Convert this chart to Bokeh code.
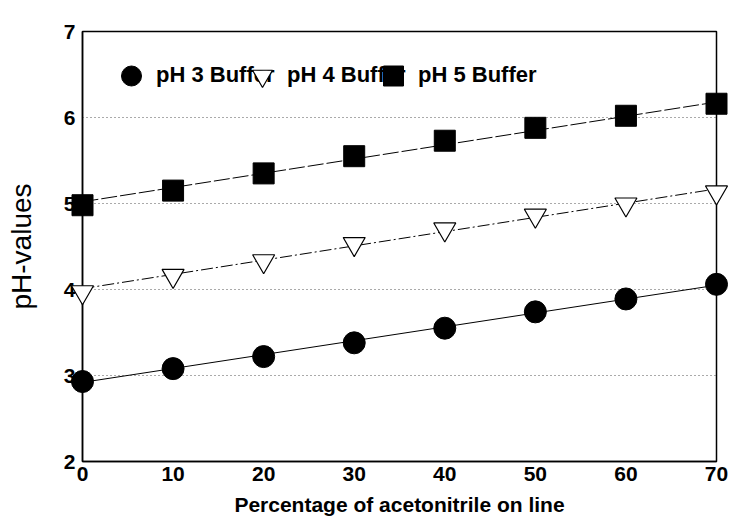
from bokeh.plotting import figure
from bokeh.models import (ColumnDataSource, Legend, LegendItem, FixedTicker,
                          Range1d)
from bokeh.embed import file_html
from bokeh.resources import INLINE

# ---- data ----
acetonitrile = [0, 10, 20, 30, 40, 50, 60, 70]
ph3_buffer = [2.93, 3.08, 3.22, 3.38, 3.55, 3.74, 3.89, 4.06]
ph4_buffer = [3.97, 4.16, 4.33, 4.53, 4.70, 4.86, 4.99, 5.13]
ph5_buffer = [4.98, 5.15, 5.35, 5.55, 5.73, 5.88, 6.02, 6.16]

fit_x = [0, 70]
fit_ph3 = [2.92, 4.05]
fit_ph4 = [4.01, 5.17]
fit_ph5 = [5.02, 6.18]

x_ticks = [0, 10, 20, 30, 40, 50, 60, 70]
y_ticks = [2, 3, 4, 5, 6, 7]
series_labels = ["pH 3 Buffer", "pH 4 Buffer", "pH 5 Buffer"]

FONT = "Liberation Sans"

p = figure(width=731, height=519, output_backend="svg", toolbar_location=None,
           x_range=Range1d(0, 70), y_range=Range1d(2, 7),
           min_border_left=82, min_border_right=15, min_border_top=31,
           min_border_bottom=58)

src = ColumnDataSource(dict(x=acetonitrile, a=ph3_buffer, b=ph4_buffer, c=ph5_buffer))
fits = ColumnDataSource(dict(x=fit_x, a=fit_ph3, b=fit_ph4, c=fit_ph5))

p.line("x", "a", source=fits, line_color="black", line_width=1)
p.line("x", "b", source=fits, line_color="black", line_width=1, line_dash="12 3 2 3")
p.line("x", "c", source=fits, line_color="black", line_width=1, line_dash="16 3")

r3 = p.scatter("x", "a", source=src, marker="circle", size=22,
               fill_color="black", line_color="black", level="overlay")
r4 = p.scatter("x", "b", source=src, marker="inverted_triangle", size=22,
               fill_color="white", line_color="black", line_width=1.2,
               level="overlay")
r5 = p.scatter("x", "c", source=src, marker="square", size=21,
               fill_color="black", line_color="black", level="overlay")

# grid
p.xgrid.grid_line_color = None
p.ygrid.ticker = FixedTicker(ticks=y_ticks)
p.ygrid.grid_line_color = "#555555"
p.ygrid.grid_line_dash = "1 3"
p.ygrid.grid_line_width = 1

# axes
p.xaxis.ticker = FixedTicker(ticks=x_ticks)
p.yaxis.ticker = FixedTicker(ticks=y_ticks)
for ax in (p.xaxis, p.yaxis):
    ax.axis_line_color = "black"
    ax.axis_line_width = 1.5
    ax.major_tick_in = 0
    ax.major_tick_out = 0
    ax.minor_tick_line_color = None
    ax.major_label_text_font = FONT
    ax.major_label_text_font_style = "bold"
    ax.major_label_text_font_size = "21px"
    ax.major_label_text_color = "black"
    ax.axis_label_text_font = FONT
    ax.axis_label_text_color = "black"

p.xaxis.axis_label = "Percentage of acetonitrile on line"
p.xaxis.axis_label_text_font_size = "21px"
p.xaxis.axis_label_text_font_style = "bold"
p.xaxis.major_label_standoff = 5
p.xaxis.axis_label_standoff = 9

p.yaxis.axis_label = "pH-values"
p.yaxis.axis_label_text_font_size = "28px"
p.yaxis.axis_label_text_font_style = "normal"
p.yaxis.major_label_standoff = 7
p.yaxis.axis_label_standoff = 24

p.outline_line_color = "black"
p.outline_line_width = 1.5

# overlapping one-item legends, as in the original
renderers = [r3, r4, r5]
legend_x = [24, 155, 286]
for rend, lab, lx in zip(renderers, series_labels, legend_x):
    lg = Legend(items=[LegendItem(label=lab, renderers=[rend])],
                location=(lx, 358.5), orientation="horizontal",
                glyph_width=50, glyph_height=55, label_standoff=0,
                padding=0, margin=0, spacing=0,
                background_fill_alpha=0, border_line_color=None,
                label_text_font=FONT, label_text_font_style="bold",
                label_text_font_size="22px", label_text_color="black",
                label_text_baseline="alphabetic")
    p.add_layout(lg)

open("out.html", "w").write(file_html(p, INLINE))
